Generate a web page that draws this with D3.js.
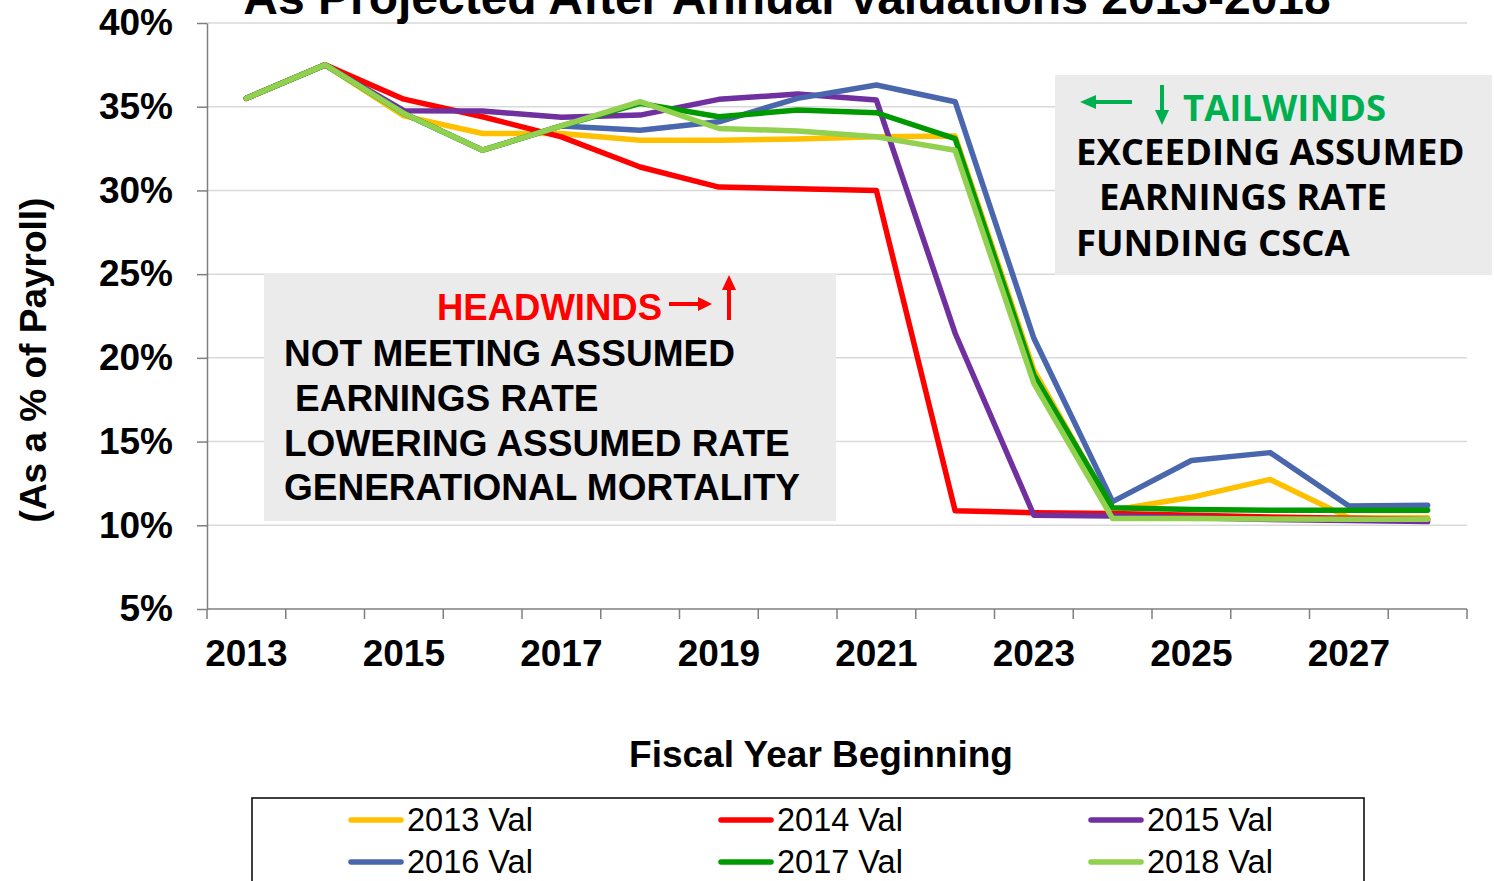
<!DOCTYPE html>
<html>
<head>
<meta charset="utf-8">
<script src="https://cdnjs.cloudflare.com/ajax/libs/d3/7.8.5/d3.min.js"></script>
<style>
  body { margin: 0; background: #fff; }
  svg { display: block; font-family: "Liberation Sans", Arial, sans-serif; }
  .bold { font-weight: bold; }
</style>
</head>
<body>
<div id="chart"></div>
<script>
// categories (fiscal year beginning)
var years = ["2013","2014","2015","2016","2017","2018","2019","2020",
             "2021","2022","2023","2024","2025","2026","2027","2028"];

// contribution rate, % of payroll, per valuation
var val2013 = [35.5,37.5,34.45,33.4,33.4,33.0,33.0,33.07,33.2,33.25,19.27,10.9,11.67,12.74,10.45,10.45];
var val2014 = [35.5,37.5,35.45,34.4,33.2,31.4,30.2,30.1,30.0,10.87,10.75,10.7,10.6,10.5,10.42,10.35];
var val2015 = [35.5,37.5,34.76,34.74,34.37,34.5,35.44,35.76,35.4,21.47,10.6,10.55,10.45,10.35,10.28,10.22];
var val2016 = [35.5,37.5,34.6,32.4,33.85,33.6,34.1,35.5,36.3,35.3,21.17,11.41,13.87,14.34,11.15,11.19];
var val2017 = [35.5,37.5,34.6,32.4,33.85,35.2,34.4,34.8,34.64,33.1,18.98,11.05,10.95,10.9,10.9,10.9];
var val2018 = [35.5,37.5,34.6,32.4,33.85,35.3,33.7,33.55,33.2,32.4,18.47,10.4,10.4,10.38,10.36,10.36];

var seriesNames = ["2013 Val","2014 Val","2015 Val","2016 Val","2017 Val","2018 Val"];
var seriesValues = [val2013, val2014, val2015, val2016, val2017, val2018];
var seriesColors = ["#FFC000","#FF0000","#7030A0","#4A67AD","#009A00","#92D050"];

var yTicks = [5,10,15,20,25,30,35,40];

var width = 1494, height = 881;
var plotLeft = 207, plotRight = 1467, plotTop = 23, plotBottom = 609;

var svg = d3.select("#chart").append("svg")
  .attr("width", width)
  .attr("height", height);

var x = d3.scaleBand().domain(years).range([plotLeft, plotRight]).padding(0);
var y = d3.scaleLinear().domain([5, 40]).range([plotBottom, plotTop]);

// gridlines
svg.append("g")
  .selectAll("line")
  .data(yTicks.slice(1))
  .enter()
  .append("line")
  .attr("x1", plotLeft)
  .attr("x2", plotRight)
  .attr("y1", function(d) { return y(d); })
  .attr("y2", function(d) { return y(d); })
  .attr("stroke", "#D9D9D9")
  .attr("stroke-width", 1.5);

// title (cut off at the top)
svg.append("text")
  .attr("class", "bold")
  .attr("x", 787)
  .attr("y", 14)
  .attr("text-anchor", "middle")
  .attr("font-size", 48)
  .text("As Projected After Annual Valuations 2013-2018");

// annotation boxes
var headBox = svg.append("g");
headBox.append("rect")
  .attr("x", 264).attr("y", 274)
  .attr("width", 572).attr("height", 247)
  .attr("fill", "#EBEBEB");

var tailBox = svg.append("g");
tailBox.append("rect")
  .attr("x", 1055).attr("y", 75)
  .attr("width", 437).attr("height", 200)
  .attr("fill", "#EBEBEB");

// y axis
var yAxis = d3.axisLeft(y)
  .tickValues(yTicks)
  .tickFormat(function(d) { return d + "%"; })
  .tickSize(10)
  .tickSizeOuter(0)
  .tickPadding(24);

var gy = svg.append("g")
  .attr("transform", "translate(" + plotLeft + ",0)")
  .call(yAxis);
gy.select(".domain").attr("stroke", "#7F7F7F").attr("stroke-width", 1.5);
gy.selectAll(".tick line").attr("stroke", "#7F7F7F").attr("stroke-width", 1.5);
gy.selectAll("text")
  .attr("class", "bold")
  .attr("font-size", 37)
  .attr("font-family", "Liberation Sans, Arial, sans-serif")
  .attr("fill", "#000");

// x axis line + ticks at category boundaries
svg.append("line")
  .attr("x1", plotLeft).attr("x2", plotRight)
  .attr("y1", plotBottom).attr("y2", plotBottom)
  .attr("stroke", "#7F7F7F").attr("stroke-width", 1.5);

var bounds = years.map(function(d) { return x(d); }).concat([plotRight]);
svg.append("g")
  .selectAll("line")
  .data(bounds)
  .enter()
  .append("line")
  .attr("x1", function(d) { return d; })
  .attr("x2", function(d) { return d; })
  .attr("y1", plotBottom)
  .attr("y2", plotBottom + 10)
  .attr("stroke", "#7F7F7F")
  .attr("stroke-width", 1.5);

var xAxis = d3.axisBottom(x)
  .tickValues(years.filter(function(d, i) { return i % 2 === 0; }))
  .tickSize(0)
  .tickPadding(31);

var gx = svg.append("g")
  .attr("transform", "translate(0," + plotBottom + ")")
  .call(xAxis);
gx.select(".domain").remove();
gx.selectAll("text")
  .attr("class", "bold")
  .attr("font-size", 37)
  .attr("font-family", "Liberation Sans, Arial, sans-serif")
  .attr("fill", "#000");

// axis titles
svg.append("text")
  .attr("class", "bold")
  .attr("transform", "translate(46,360)rotate(-90)")
  .attr("text-anchor", "middle")
  .attr("font-size", 37)
  .text("(As a % of Payroll)");

svg.append("text")
  .attr("class", "bold")
  .attr("x", 821)
  .attr("y", 767)
  .attr("text-anchor", "middle")
  .attr("font-size", 37)
  .text("Fiscal Year Beginning");

// lines
var line = d3.line()
  .x(function(d, i) { return x(years[i]) + x.bandwidth() / 2; })
  .y(function(d) { return y(d); });

svg.append("g")
  .selectAll("path")
  .data(seriesValues)
  .enter()
  .append("path")
  .attr("d", line)
  .attr("fill", "none")
  .attr("stroke", function(d, i) { return seriesColors[i]; })
  .attr("stroke-width", 5.5)
  .attr("stroke-linejoin", "round")
  .attr("stroke-linecap", "round");

// headwinds text
headBox.append("text")
  .attr("class", "bold")
  .attr("x", 437).attr("y", 320)
  .attr("font-size", 36.5)
  .attr("fill", "#FF0000")
  .text("HEADWINDS");

var headLines = [
  { t: "NOT MEETING ASSUMED", x: 284, y: 366 },
  { t: "EARNINGS RATE", x: 295, y: 411 },
  { t: "LOWERING ASSUMED RATE", x: 284, y: 456 },
  { t: "GENERATIONAL MORTALITY", x: 284, y: 500 }
];
svg.append("g")
  .selectAll("text")
  .data(headLines)
  .enter()
  .append("text")
  .attr("class", "bold")
  .attr("x", function(d) { return d.x; })
  .attr("y", function(d) { return d.y; })
  .attr("font-size", 37)
  .text(function(d) { return d.t; });

// red arrows
svg.append("line")
  .attr("x1", 669).attr("y1", 304).attr("x2", 700).attr("y2", 304)
  .attr("stroke", "#FF0000").attr("stroke-width", 4);
svg.append("path")
  .attr("d", "M712,304 L698,297 L698,311 Z")
  .attr("fill", "#FF0000");
svg.append("line")
  .attr("x1", 729).attr("y1", 320).attr("x2", 729).attr("y2", 288)
  .attr("stroke", "#FF0000").attr("stroke-width", 4);
svg.append("path")
  .attr("d", "M729,275 L722,290 L736,290 Z")
  .attr("fill", "#FF0000");

// tailwinds text
var tailFont = "'Open Sans', 'Noto Sans', sans-serif";
svg.append("text")
  .attr("x", 1183).attr("y", 121)
  .attr("font-family", tailFont)
  .attr("font-weight", "bold")
  .attr("font-size", 36.5)
  .attr("fill", "#00B050")
  .text("TAILWINDS");

var tailLines = [
  { t: "EXCEEDING ASSUMED", x: 1076, y: 165 },
  { t: "EARNINGS RATE", x: 1099, y: 210 },
  { t: "FUNDING CSCA", x: 1076, y: 256 }
];
svg.append("g")
  .selectAll("text")
  .data(tailLines)
  .enter()
  .append("text")
  .attr("x", function(d) { return d.x; })
  .attr("y", function(d) { return d.y; })
  .attr("font-family", tailFont)
  .attr("font-weight", "bold")
  .attr("font-size", 36.5)
  .text(function(d) { return d.t; });

// green arrows
svg.append("line")
  .attr("x1", 1132).attr("y1", 102).attr("x2", 1094).attr("y2", 102)
  .attr("stroke", "#00B050").attr("stroke-width", 4);
svg.append("path")
  .attr("d", "M1080,102 L1096,95 L1096,109 Z")
  .attr("fill", "#00B050");
svg.append("line")
  .attr("x1", 1162).attr("y1", 85).attr("x2", 1162).attr("y2", 112)
  .attr("stroke", "#00B050").attr("stroke-width", 4);
svg.append("path")
  .attr("d", "M1162,125 L1155,110 L1169,110 Z")
  .attr("fill", "#00B050");

// legend
var legend = svg.append("g");
legend.append("rect")
  .attr("x", 252).attr("y", 798)
  .attr("width", 1112).attr("height", 120)
  .attr("fill", "#fff")
  .attr("stroke", "#000")
  .attr("stroke-width", 1.5);

var items = legend.selectAll("g.item")
  .data(seriesNames)
  .enter()
  .append("g")
  .attr("class", "item")
  .attr("transform", function(d, i) {
    return "translate(" + (349 + (i % 3) * 370) + "," + (820 + Math.floor(i / 3) * 42) + ")";
  });

items.append("line")
  .attr("x1", 2).attr("x2", 52)
  .attr("y1", 0).attr("y2", 0)
  .attr("stroke", function(d, i) { return seriesColors[i]; })
  .attr("stroke-width", 5.5)
  .attr("stroke-linecap", "round");

items.append("text")
  .attr("x", 58)
  .attr("y", 11)
  .attr("font-size", 32.5)
  .text(function(d) { return d; });
</script>
</body>
</html>
